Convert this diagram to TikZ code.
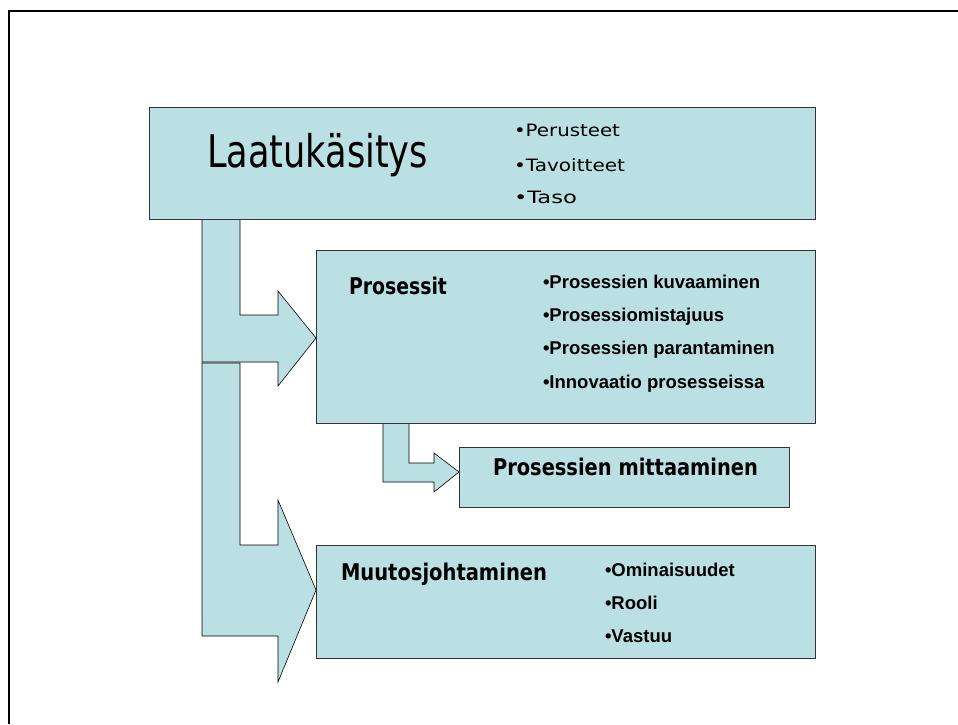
\documentclass[tikz,border=0pt]{standalone}
\usepackage{fontspec}
\usepackage{graphicx}
\setmainfont{DejaVu Sans}
\newfontfamily\arialfont{Liberation Sans}
\usetikzlibrary{shadows}
\definecolor{boxfill}{HTML}{BBE0E3}
\newcommand{\fitw}[2]{\resizebox{#1}{\height}{#2}}
\begin{document}
\begin{tikzpicture}[x=1pt,y=-1pt,
  box/.style={draw=black!80, line width=0.8pt, fill=boxfill, rectangle, anchor=north west,
    inner sep=0pt, outer sep=0pt,
    drop shadow={shadow xshift=1.2pt, shadow yshift=-1.2pt, fill=black!55, opacity=1}},
  blockarrow/.style={fill=boxfill, draw=black, line width=0.6pt, line join=miter},
  lbl/.style={anchor=base west, inner sep=0pt, outer sep=0pt},
  titlebig/.style={lbl, font=\fontsize{45}{45}\selectfont},
  titlebold/.style={lbl, font=\fontsize{23}{23}\selectfont\bfseries},
  tbul/.style={lbl, font=\fontsize{17}{17}\selectfont},
  abul/.style={lbl, font=\arialfont\bfseries\fontsize{18.5}{18.5}\selectfont},
  frameline/.style={line width=2pt, draw=black}]
\useasboundingbox (0,0) rectangle (958,724);
\draw[frameline] (9,724) -- (9,11) -- (958,11);

% block arrows
\draw[blockarrow] (202,363) -- (202,636) -- (278,636) -- (278,682) -- (316,590) -- (278,500)
  -- (278,545) -- (240,545) -- (240,363) -- cycle;
\draw[blockarrow] (202,215) -- (202,362) -- (278,362) -- (278,386) -- (316,338) -- (278,291)
  -- (278,315) -- (240,315) -- (240,215) -- cycle;
\draw[blockarrow] (383,420) -- (383,482) -- (434,482) -- (434,492) -- (459,472) -- (434,453)
  -- (434,463) -- (409,463) -- (409,420) -- cycle;

% boxes
\node[box, minimum width=666pt, minimum height=112pt] (top) at (149,107) {};
\node[box, minimum width=499pt, minimum height=173pt] (pros) at (316,250) {};
\node[box, minimum width=330pt, minimum height=60pt] (mitt) at (459,447) {};
\node[box, minimum width=499pt, minimum height=113pt] (muut) at (316,545) {};

% texts
\node[titlebig] (laatu) at (207,167) {\fitw{221pt}{Laatukäsitys}};
\node[tbul] (b1) at (514,136.7) {\fitw{106pt}{•Perusteet}};
\node[tbul] (b2) at (514,171.7) {\fitw{111pt}{•Tavoitteet}};
\node[tbul] (b3) at (514,203.5) {\fitw{63pt}{•Taso}};

\node[titlebold] (prost) at (349,294) {\fitw{98pt}{Prosessit}};
\node[abul] (p1) at (543,288.3) {•Prosessien kuvaaminen};
\node[abul] (p2) at (543,321) {•Prosessiomistajuus};
\node[abul] (p3) at (543,354.5) {•Prosessien parantaminen};
\node[abul] (p4) at (543,388) {•Innovaatio prosesseissa};

\node[titlebold] (mittt) at (493,475) {\fitw{265pt}{Prosessien mittaaminen}};

\node[titlebold] (muutt) at (341,580.7) {\fitw{206pt}{Muutosjohtaminen}};
\node[abul] (m1) at (605,576) {•Ominaisuudet};
\node[abul] (m2) at (605,609) {•Rooli};
\node[abul] (m3) at (605,642) {•Vastuu};
\end{tikzpicture}
\end{document}
